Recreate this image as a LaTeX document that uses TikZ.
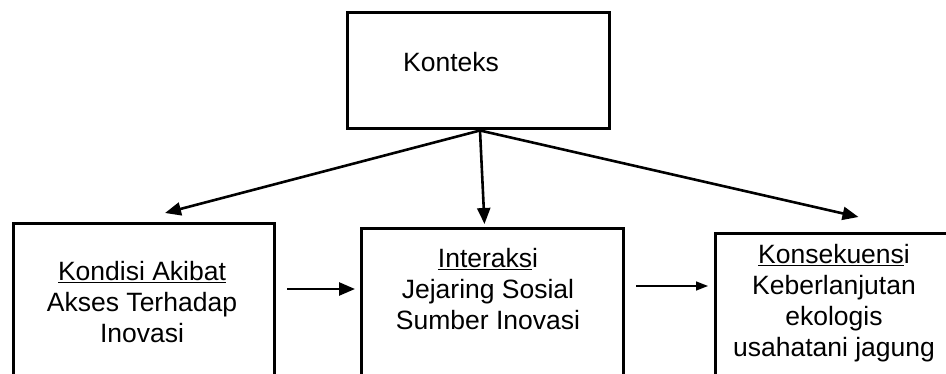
\documentclass[tikz,border=0pt]{standalone}
\usepackage{fontspec}
\setmainfont{Liberation Sans}
\usetikzlibrary{arrows.meta, positioning}

\begin{document}
\begin{tikzpicture}[x=1pt, y=-1pt,
    box/.style={rectangle, draw, line width=3pt, inner sep=0pt},
    boxtext/.style={align=center, inner sep=0pt, font=\fontsize{26.5}{31}\selectfont},
    arrow/.style={-{Triangle[length=16pt, width=13pt]}, line width=2.6pt},
    thinarrow/.style={-{Triangle[length=12pt, width=9pt]}, line width=1.5pt}]

    \useasboundingbox (0,0) rectangle (946,374);
    \clip (0,0) rectangle (946,374);

    % top box
    \node (konteks) [box, minimum width=262pt, minimum height=116pt] at (478,71) {};
    \node (kontekstext) [boxtext, anchor=base west] at (403,72) {Konteks};

    % lower boxes, running past the bottom edge
    \node (kondisi) [box, anchor=north west, minimum width=261pt, minimum height=200pt] at (12,222) {};
    \node (interaksi) [box, anchor=north west, minimum width=262pt, minimum height=200pt] at (360,227) {};
    \node (konsekuensi) [box, anchor=north west, minimum width=260pt, minimum height=200pt] at (714,232) {};

    \node (kondisitext) [boxtext, anchor=north] at (142,261) {\underline{Kondisi Akibat}\\Akses Terhadap\\Inovasi};
    \node (interaksitext) [boxtext, anchor=north] at (488,248) {\underline{Interaks}i\\Jejaring Sosial\\Sumber Inovasi};
    \node (konsekuensitext) [boxtext, anchor=north] at (834,244) {\underline{Konsekuens}i\\Keberlanjutan\\ekologis\\usahatani jagung};

    \draw [arrow] ([xshift=2pt]konteks.south) -- ([xshift=21pt,yshift=9pt]kondisi.north);
    \draw [arrow] ([xshift=2pt]konteks.south) -- ([xshift=-8pt,yshift=3pt]interaksi.north);
    \draw [arrow] ([xshift=2pt]konteks.south) -- ([xshift=13pt,yshift=15pt]konsekuensi.north);

    \draw [arrow] ([xshift=11pt,yshift=-67pt]kondisi.north east) -- ([xshift=-5pt,yshift=-62pt]interaksi.north west);
    \draw [thinarrow] ([xshift=11pt,yshift=-59pt]interaksi.north east) -- ([xshift=-6pt,yshift=-54pt]konsekuensi.north west);

\end{tikzpicture}
\end{document}
